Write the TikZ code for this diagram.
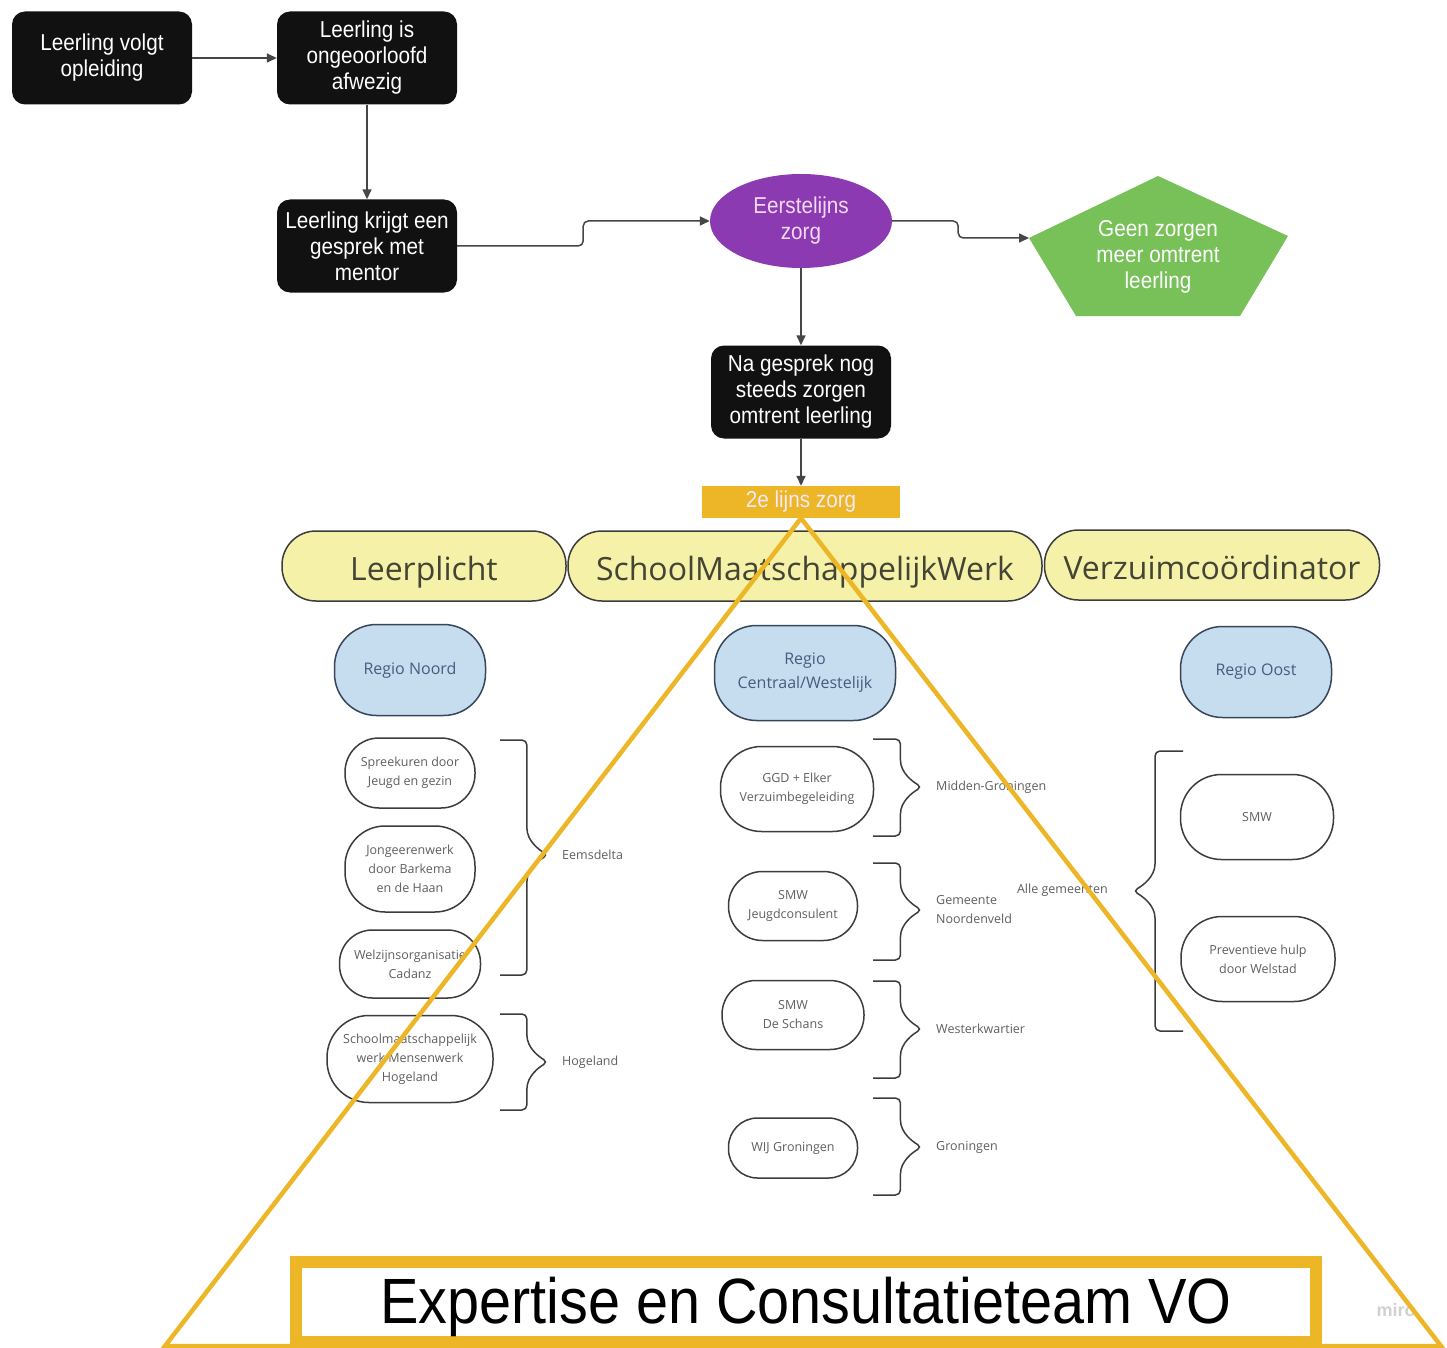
\documentclass[tikz,border=0pt]{standalone}
\usepackage{fontspec}
\setmainfont{Liberation Sans}
\newfontfamily\arn{Liberation Sans}[FakeStretch=0.9]
\newfontfamily\osans{Open Sans}
\usetikzlibrary{arrows.meta,shapes.geometric}
\definecolor{boxblack}{RGB}{17,17,17}
\definecolor{purp}{RGB}{140,58,178}
\definecolor{pinkw}{RGB}{242,218,242}
\definecolor{pgreen}{RGB}{119,193,88}
\definecolor{goldc}{RGB}{236,182,38}
\definecolor{pyellow}{RGB}{245,241,168}
\definecolor{olivet}{RGB}{68,68,52}
\definecolor{lblue}{RGB}{198,221,240}
\definecolor{dblue}{RGB}{55,70,90}
\definecolor{bluet}{RGB}{70,92,125}
\definecolor{greyt}{RGB}{95,95,95}
\definecolor{greyl}{RGB}{60,60,60}
\definecolor{connc}{RGB}{70,70,70}
\newcommand{\mybrace}[5]{%
  \draw[brc, rounded corners=5] (#1,#2) -- (#1+0.56*#5,#2) -- (#1+0.56*#5,#4-32)
    .. controls (#1+0.56*#5,#4-14) and (#1+0.82*#5,#4-5) .. (#1+#5,#4)
    .. controls (#1+0.82*#5,#4+5) and (#1+0.56*#5,#4+14) .. (#1+0.56*#5,#4+32)
    -- (#1+0.56*#5,#3) -- (#1,#3);}
\begin{document}
\begin{tikzpicture}[x=1pt,y=-1pt,
  blackbox/.style={fill=boxblack, rounded corners=13, minimum width=180, minimum height=93,
    inner sep=0, text=white, align=center, font=\arn\fontsize{23}{26}\selectfont},
  conn/.style={draw=connc, line width=1.5, -{Triangle[length=10,width=9]}},
  pill/.style={draw=greyl, line width=1.5, fill=pyellow, rounded corners=34, minimum height=70,
    inner sep=0, text height=36, text depth=8, text=olivet, font=\osans\fontsize{32}{36}\selectfont},
  blu/.style={draw=dblue, line width=1.5, fill=lblue, rounded corners=42, inner sep=0,
    text=bluet, align=center, font=\osans\fontsize{16}{24}\selectfont},
  wnode/.style={draw=greyl, line width=1.5, fill=white, inner sep=0, text=greyt, align=center,
    font=\osans\fontsize{12.5}{19}\selectfont},
  lab/.style={inner sep=0, anchor=west, text=greyt, font=\osans\fontsize{12.5}{19}\selectfont},
  brc/.style={draw=greyl, line width=1.5},
  tri/.style={draw=goldc, line width=4.5, line join=miter}]
\useasboundingbox (0,0) rectangle (1447,1348);
\fill[white] (0,0) rectangle (1447,1348);

% top flow
\node[blackbox] (volgt) at (102,58) {\rule{0pt}{4pt}Leerling volgt\\opleiding};
\node[blackbox] (afw) at (367,58) {\rule{0pt}{4pt}Leerling is\\ongeoorloofd\\afwezig};
\node[blackbox] (mentor) at (367,246) {\rule{0pt}{4pt}Leerling krijgt een\\gesprek met\\mentor};
\node[ellipse, fill=purp, minimum width=182, minimum height=94, inner sep=0, text=pinkw,
  align=center, font=\arn\fontsize{23}{26}\selectfont] (eerst) at (801,221) {Eerstelijns\\zorg};
\fill[pgreen] (1158,176) -- (1288,236) -- (1240,316) -- (1076,316) -- (1029,238) -- cycle;
\coordinate (pL) at (1029,238);
\node[text=white, align=center, font=\arn\fontsize{23}{26}\selectfont] (geen) at (1158,257)
  {Geen zorgen\\meer omtrent\\leerling};
\node[blackbox] (nagesprek) at (801,392) {Na gesprek nog\\steeds zorgen\\omtrent leerling};
\node[fill=goldc, minimum width=198, minimum height=32, inner sep=0, text=pinkw!60!white,
  font=\arn\fontsize{23}{26}\selectfont] (lijn) at (801,502) {2e lijns zorg};

\draw[conn] (volgt) -- (afw);
\draw[conn] (afw) -- (mentor);
\draw[conn, rounded corners=5] (mentor.east) -- ++(126,0) |- (eerst.west);
\draw[conn, rounded corners=5] (eerst.east) -- ++(66,0) |- (pL);
\draw[conn] (eerst) -- (nagesprek);
\draw[conn] (nagesprek) -- (lijn);

% pills
\node[pill, minimum width=284] (lp) at (424,566) {Leerplicht};
\node[pill, minimum width=474] (smw) at (805,566) {SchoolMaatschappelijkWerk};
\node[pill, minimum width=335] (vc) at (1212,565) {Verzuimcoördinator};

% regions
\node[blu, minimum width=151, minimum height=91] (rn) at (410,670) {Regio Noord};
\node[blu, minimum width=181, minimum height=95] (rc) at (805,673) {Regio\\Centraal/Westelijk};
\node[blu, minimum width=151, minimum height=91] (ro) at (1256,672) {Regio Oost};

% left column
\node[wnode, rounded corners=34, minimum width=130, minimum height=70] (sp) at (410,773) {Spreekuren door\\Jeugd en gezin};
\node[wnode, rounded corners=40, minimum width=130, minimum height=86] (jo) at (410,869) {Jongeerenwerk\\door Barkema\\en de Haan};
\node[wnode, rounded corners=33, minimum width=141, minimum height=68] (we) at (410,964) {Welzijnsorganisatie\\Cadanz};
\node[wnode, rounded corners=42, minimum width=166, minimum height=87] (sm) at (410,1059) {Schoolmaatschappelijk\\werk Mensenwerk\\Hogeland};
\mybrace{500}{740}{975}{855}{48}
\mybrace{500}{1014}{1110}{1062}{48}
\node[lab] (eems) at (562,855) {Eemsdelta};
\node[lab] (hoge) at (562,1062) {Hogeland};

% centre column
\node[wnode, rounded corners=41, minimum width=153, minimum height=85] (gg) at (797,789) {GGD + Elker\\Verzuimbegeleiding};
\node[wnode, rounded corners=34, minimum width=129, minimum height=69] (sj) at (793,906) {SMW\\Jeugdconsulent};
\node[wnode, rounded corners=34, minimum width=142, minimum height=69] (sd) at (793,1015) {SMW\\De Schans};
\node[wnode, rounded corners=29, minimum width=129, minimum height=60] (wij) at (793,1148) {WIJ Groningen};
\mybrace{873}{739}{836}{787}{49}
\mybrace{873}{863}{960}{910}{49}
\mybrace{873}{981}{1078}{1029}{49}
\mybrace{873}{1098}{1195}{1147}{49}
\node[lab] (midg) at (936,787) {Midden-Groningen};
\node[lab, align=left] (noord) at (936,910) {Gemeente\\Noordenveld};
\node[lab] (west) at (936,1029) {Westerkwartier};
\node[lab] (gron) at (936,1147) {Groningen};

% right column
\node[wnode, rounded corners=41, minimum width=153, minimum height=85] (smwr) at (1257,817) {SMW};
\node[wnode, rounded corners=41, minimum width=154, minimum height=85] (prev) at (1258,959) {Preventieve hulp\\door Welstad};
\mybrace{1183}{751}{1031}{891}{-50}
\node[lab, anchor=east] (alle) at (1108,890) {Alle gemeenten};

% watermark
\node[text=black!18, font=\bfseries\fontsize{18}{20}\selectfont] (miro) at (1396,1310) {miro};

% triangle
\draw[tri] (lijn.south) -- (165,1346) -- (1441,1346) -- cycle;

% bottom box
\node[draw=goldc, line width=12, fill=white, minimum width=1020, minimum height=80, inner sep=0,
  text height=50, text depth=8, font=\arn\fontsize{64}{70}\selectfont] (ect) at (806,1302) {Expertise en Consultatieteam VO};
\end{tikzpicture}
\end{document}
